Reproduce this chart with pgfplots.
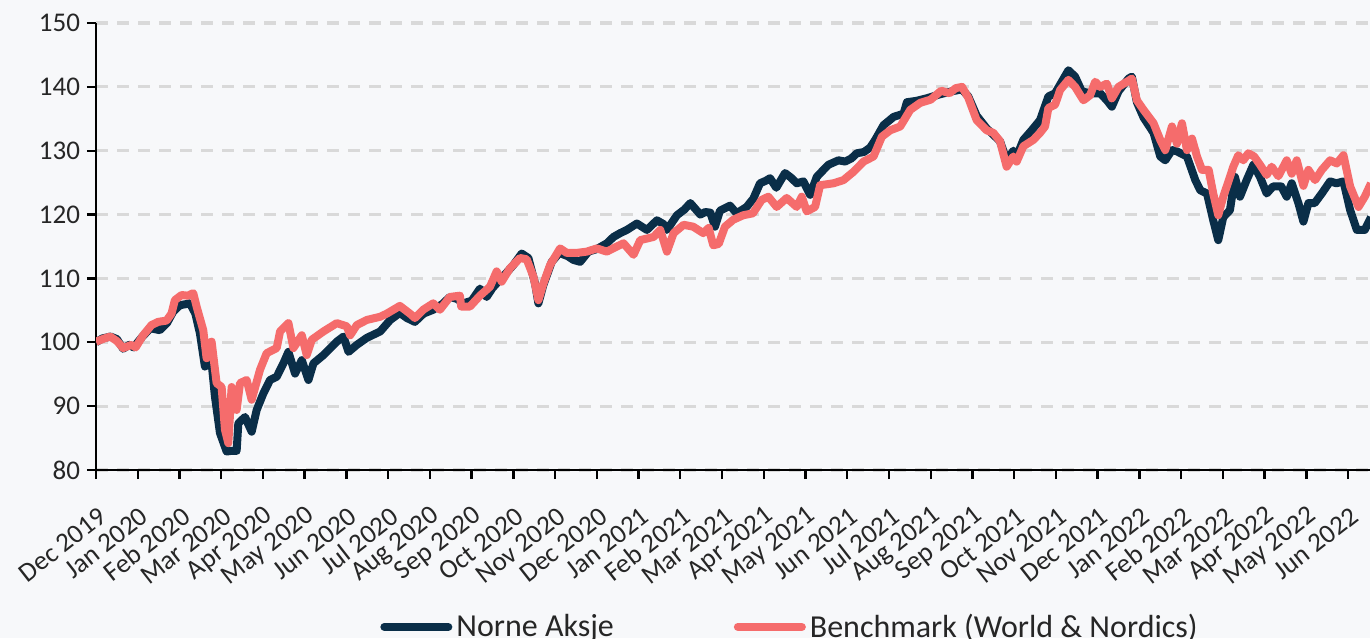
\documentclass[border=0pt]{standalone}
\usepackage{fontspec}
\setmainfont{Carlito}
\usepackage{pgfplots}
\pgfplotsset{compat=1.18}
\definecolor{bg}{RGB}{247,248,250}
\definecolor{navy}{RGB}{10,46,72}
\definecolor{coral}{RGB}{245,108,108}
\definecolor{gridc}{RGB}{217,217,217}
\definecolor{txt}{RGB}{38,38,38}
\begin{document}
\begin{tikzpicture}
\fill[bg] (0,0) rectangle (685pt,319pt);
\begin{axis}[
  at={(48pt,84pt)}, anchor=south west,
  scale only axis, width=637.5pt, height=223.5pt,
  xmin=0, xmax=30.55, ymin=80, ymax=150,
  axis x line*=bottom, axis y line*=left,
  axis line style={black, line width=1.3pt},
  tick align=outside, major tick length=4.5pt,
  tick style={black, line width=1.2pt},
  ytick={80,90,...,150},
  xtick={0,...,30},
  xticklabels={Dec 2019,Jan 2020,Feb 2020,Mar 2020,Apr 2020,May 2020,Jun 2020,Jul 2020,Aug 2020,Sep 2020,Oct 2020,Nov 2020,Dec 2020,Jan 2021,Feb 2021,Mar 2021,Apr 2021,May 2021,Jun 2021,Jul 2021,Aug 2021,Sep 2021,Oct 2021,Nov 2021,Dec 2021,Jan 2022,Feb 2022,Mar 2022,Apr 2022,May 2022,Jun 2022},
  xticklabel shift=10pt,
  xticklabel style={yshift=-7pt, xshift=3.5pt, rotate=38, anchor=east, inner sep=0pt, font=\fontsize{13.5}{16}\selectfont, text=txt},
  yticklabel style={font=\fontsize{13.5}{16}\selectfont, text=txt},
  /pgf/number format/assume math mode=true,
  ymajorgrids, grid style={gridc, line width=1.6pt, dash pattern=on 6pt off 4.5pt},
  legend style={at={(axis description cs:0.2227,-0.351)}, anchor=west, draw=none, fill=none, inner sep=0pt,
    font=\fontsize{16}{19}\selectfont, text=txt, legend columns=2,
    /tikz/every even column/.append style={column sep=58pt}},
  legend image code/.code={\draw[#1, line width=4pt, line cap=round] (0pt,0pt) -- (32pt,0pt);},
  every axis plot/.append style={line join=round},
]
\addplot[navy, line width=4pt] coordinates {
(0.00,100.0) (0.15,100.6) (0.35,100.9) (0.50,100.5) (0.65,99.0) (0.80,99.6) (0.90,99.2) (1.10,100.8) (1.30,102.2) (1.53,101.9)
(1.70,103.0) (1.85,104.8) (2.01,105.8) (2.25,106.1) (2.38,104.5) (2.49,101.4) (2.61,96.2) (2.73,99.4) (2.85,91.5) (2.97,85.8)
(3.13,82.9) (3.25,83.0) (3.37,83.0) (3.41,87.3) (3.57,88.3) (3.73,86.0) (3.85,89.4) (4.01,92.0) (4.17,94.1) (4.33,94.6)
(4.49,96.7) (4.61,98.5) (4.77,95.1) (4.93,97.2) (5.09,94.1) (5.21,96.7) (5.45,98.0) (5.77,100.1) (5.93,100.9) (6.05,98.5)
(6.25,99.6) (6.49,100.7) (6.81,101.7) (7.05,103.5) (7.28,104.6) (7.45,103.8) (7.64,103.2) (7.85,104.5) (8.08,105.1) (8.30,106.0)
(8.48,107.1) (8.65,106.8) (8.80,106.1) (9.00,106.5) (9.20,108.4) (9.36,107.1) (9.50,108.5) (9.68,109.8) (9.85,111.0) (10.00,112.1)
(10.20,113.9) (10.36,113.2) (10.52,109.2) (10.60,106.1) (10.72,109.0) (10.92,112.6) (11.10,114.0) (11.30,113.5) (11.44,112.9) (11.60,112.6)
(11.80,114.2) (12.00,114.6) (12.24,115.5) (12.40,116.5) (12.56,117.1) (12.72,117.6) (12.96,118.6) (13.20,117.6) (13.44,119.1) (13.60,118.5)
(13.68,117.6) (13.92,119.9) (14.10,120.8) (14.24,121.8) (14.48,120.0) (14.60,120.4) (14.72,120.3) (14.83,118.1) (14.95,120.6) (15.19,121.4)
(15.35,120.2) (15.59,121.2) (15.75,122.5) (15.91,124.9) (16.05,125.3) (16.15,125.7) (16.30,124.2) (16.51,126.5) (16.65,125.8) (16.79,124.9)
(16.95,125.2) (17.11,123.1) (17.27,125.9) (17.40,126.8) (17.55,127.8) (17.79,128.5) (17.95,128.3) (18.10,128.8) (18.23,129.6) (18.40,129.8)
(18.55,130.5) (18.67,131.7) (18.87,134.0) (19.11,135.3) (19.35,135.8) (19.43,137.6) (19.65,137.8) (19.90,138.2) (20.20,138.8) (20.50,139.3)
(20.75,139.6) (20.90,138.5) (21.10,135.5) (21.34,133.5) (21.50,132.5) (21.66,131.5) (21.82,128.5) (21.98,130.0) (22.06,129.1) (22.22,131.7)
(22.42,133.2) (22.62,134.8) (22.82,138.5) (22.98,139.0) (23.14,140.8) (23.30,142.6) (23.46,141.6) (23.62,139.3) (23.82,139.0) (24.06,139.0)
(24.22,137.9) (24.34,136.9) (24.50,139.3) (24.74,141.3) (24.82,141.6) (24.94,137.6) (25.10,135.2) (25.34,132.8) (25.50,129.1) (25.62,128.5)
(25.78,130.1) (25.90,129.9) (26.14,129.1) (26.34,125.4) (26.46,123.8) (26.62,123.3) (26.77,119.1) (26.89,116.0) (27.01,119.6) (27.17,120.7)
(27.29,125.9) (27.41,122.8) (27.57,125.4) (27.73,127.8) (27.89,125.9) (28.05,123.3) (28.20,124.4) (28.40,124.4) (28.53,122.8) (28.65,124.9)
(28.81,121.8) (28.93,118.9) (29.05,121.8) (29.20,121.8) (29.37,123.3) (29.57,125.2) (29.72,124.9) (29.89,125.2) (30.05,120.7) (30.21,117.6)
(30.40,117.6) (30.55,119.6)
};
\addlegendentry{Norne Aksje}
\addplot[coral, line width=4pt] coordinates {
(0.00,100.1) (0.20,100.6) (0.34,100.9) (0.50,100.2) (0.65,99.1) (0.85,99.6) (0.95,99.2) (1.13,101.1) (1.33,102.7) (1.49,103.2)
(1.69,103.4) (1.81,104.5) (1.89,106.6) (2.05,107.4) (2.20,107.3) (2.33,107.7) (2.41,105.6) (2.57,101.9) (2.65,97.5) (2.77,100.1)
(2.89,93.6) (3.01,93.0) (3.09,86.3) (3.17,84.2) (3.25,93.0) (3.37,89.4) (3.45,93.6) (3.61,94.1) (3.73,91.0) (3.93,95.7)
(4.09,98.3) (4.33,99.1) (4.41,101.7) (4.61,103.0) (4.73,99.1) (4.93,101.1) (5.05,98.0) (5.17,100.4) (5.45,101.7) (5.77,103.0)
(6.01,102.5) (6.09,101.1) (6.25,102.7) (6.49,103.5) (6.81,104.0) (6.97,104.5) (7.28,105.7) (7.52,104.5) (7.64,103.8) (7.84,105.1)
(8.08,106.1) (8.24,105.1) (8.48,107.1) (8.72,107.3) (8.75,105.6) (8.96,105.6) (9.20,107.3) (9.44,108.7) (9.60,111.1) (9.72,109.5)
(9.92,111.6) (10.16,113.2) (10.32,113.0) (10.48,110.3) (10.60,106.6) (10.72,109.2) (10.88,112.1) (11.12,114.7) (11.28,114.0) (11.52,114.0)
(11.76,114.2) (12.00,114.7) (12.24,114.2) (12.48,115.0) (12.64,115.5) (12.88,113.7) (13.04,116.0) (13.36,116.5) (13.52,117.6) (13.68,114.2)
(13.84,117.1) (14.08,118.4) (14.31,118.1) (14.55,117.1) (14.68,117.9) (14.79,115.2) (14.92,115.4) (15.07,118.1) (15.27,119.2) (15.51,119.9)
(15.74,120.2) (15.95,122.3) (16.11,122.8) (16.31,121.2) (16.55,122.6) (16.79,121.2) (16.91,122.8) (17.03,120.5) (17.23,121.2) (17.35,124.6)
(17.67,124.9) (17.91,125.4) (18.15,126.7) (18.39,128.3) (18.63,129.1) (18.83,132.2) (19.03,133.2) (19.27,133.8) (19.51,136.4) (19.75,137.5)
(20.00,138.0) (20.25,139.4) (20.45,139.0) (20.60,139.8) (20.75,140.0) (20.90,138.3) (21.10,134.8) (21.34,133.2) (21.50,132.8) (21.66,131.5)
(21.82,127.5) (21.98,129.1) (22.06,128.3) (22.22,130.7) (22.46,131.7) (22.62,132.8) (22.74,133.8) (22.82,136.7) (22.98,137.2) (23.10,139.5)
(23.30,141.1) (23.46,140.0) (23.66,137.9) (23.82,138.7) (23.94,140.8) (24.06,140.0) (24.22,140.5) (24.34,138.2) (24.50,140.0) (24.70,140.8)
(24.82,141.3) (24.94,137.9) (25.10,136.4) (25.34,134.3) (25.50,131.7) (25.62,130.1) (25.78,133.8) (25.90,131.1) (26.02,134.3) (26.14,130.1)
(26.26,131.9) (26.38,129.1) (26.50,127.0) (26.66,127.0) (26.77,123.3) (26.89,119.9) (27.01,122.8) (27.17,125.9) (27.25,127.5) (27.37,129.3)
(27.49,128.5) (27.61,129.6) (27.75,129.1) (27.89,127.8) (28.05,126.2) (28.17,127.5) (28.33,126.0) (28.53,128.5) (28.65,126.4) (28.77,128.5)
(28.93,124.5) (29.05,127.0) (29.21,125.4) (29.37,127.0) (29.57,128.5) (29.73,128.0) (29.89,129.3) (30.05,124.4) (30.25,121.2) (30.40,122.8)
(30.55,124.9)
};
\addlegendentry{Benchmark (World \& Nordics)}
\end{axis}
\pgfresetboundingbox
\path (0,0) rectangle (685pt,319pt);
\end{tikzpicture}
\end{document}
